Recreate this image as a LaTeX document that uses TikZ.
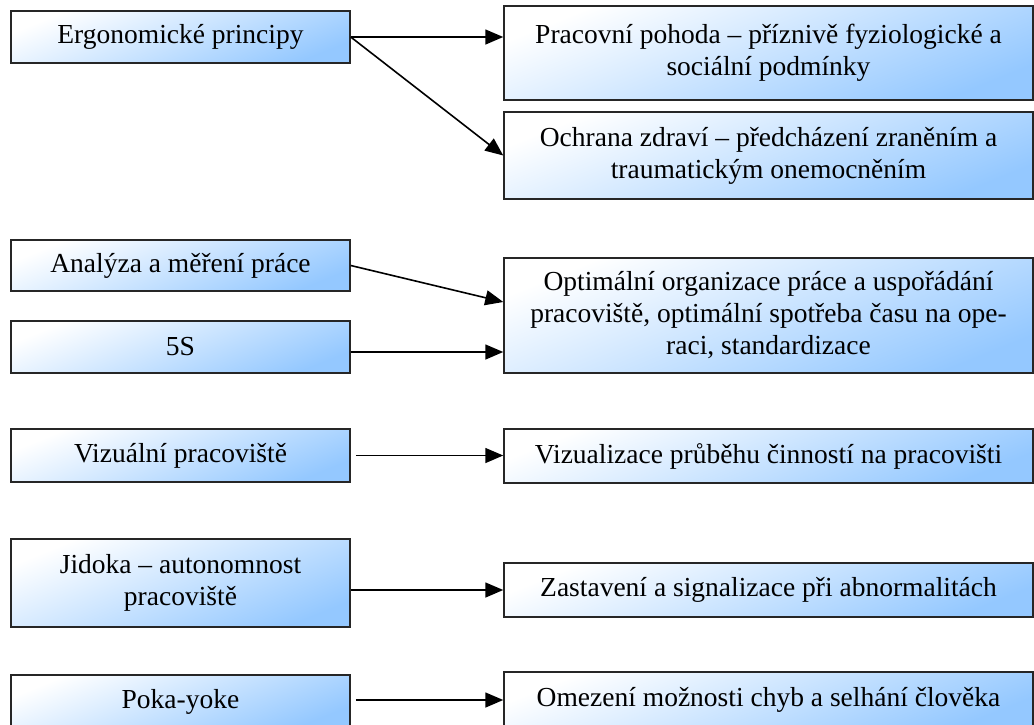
\documentclass[tikz,border=0pt]{standalone}
\usepackage{fontspec}
\setmainfont{Liberation Serif}
\usetikzlibrary{arrows.meta,calc}
\definecolor{boxblue}{RGB}{148,200,255}
\begin{document}
\begin{tikzpicture}[x=1pt,y=-1pt,
  box/.style={draw=black!85, line width=1.5pt, top color=white, bottom color=boxblue,
    shading angle=22, inner sep=0pt, align=center,
    font=\fontsize{27.5}{32}\selectfont},
  lbox/.style={box, minimum width=339pt},
  rbox/.style={box, minimum width=529pt},
  conn/.style={line width=1.6pt, -{Triangle[length=18pt,width=15pt]}}]
\useasboundingbox (0,0) rectangle (1034,724);
% left boxes
\node[lbox, minimum height=52pt] (erg) at (180.5,37) {Ergonomické principy};
\node[lbox, minimum height=51pt] (ana) at (180.5,265.5) {Analýza a měření práce};
\node[lbox, minimum height=52pt] (s5) at (180.5,347) {5S};
\node[lbox, minimum height=53pt] (viz) at (180.5,455.5) {Vizuální pracoviště};
\node[lbox, minimum height=88pt] (jid) at (180.5,583) {Jidoka – autonomnost\\pracoviště};
\node[lbox, minimum height=53pt] (poka) at (180.5,701.5) {Poka-yoke};
% right boxes
\node[rbox, minimum height=94pt] (prac) at (768.5,53) {Pracovní pohoda – příznivě fyziologické a\\sociální podmínky};
\node[rbox, minimum height=87pt] (ochr) at (768.5,155.5) {Ochrana zdraví – předcházení zraněním a\\traumatickým onemocněním};
\node[rbox, minimum height=115pt] (opt) at (768.5,315.5) {Optimální organizace práce a uspořádání\\pracoviště, optimální spotřeba času na ope-\\raci, standardizace};
\node[rbox, minimum height=54pt] (vizr) at (768.5,456) {Vizualizace průběhu činností na pracovišti};
\node[rbox, minimum height=54pt] (zast) at (768.5,590) {Zastavení a signalizace při abnormalitách};
\node[rbox, minimum height=56pt] (omez) at (768.5,700) {Omezení možnosti chyb a selhání člověka};
% connectors
\draw[conn] (erg.east) -- (erg.east -| prac.west);
\draw[conn] (erg.east) -- (ochr.west);
\draw[conn] (ana.east) -- ([yshift=13.5pt]opt.west);
\draw[conn] ([yshift=-5pt]s5.east) -- ([yshift=-5pt]s5.east -| opt.west);
\draw[conn] ([xshift=5pt]viz.east) -- (viz.east -| vizr.west);
\draw[conn] (jid.east |- zast.west) -- (zast.west);
\draw[conn] ([xshift=5pt]poka.east |- omez.west) -- (omez.west);
\end{tikzpicture}
\end{document}
